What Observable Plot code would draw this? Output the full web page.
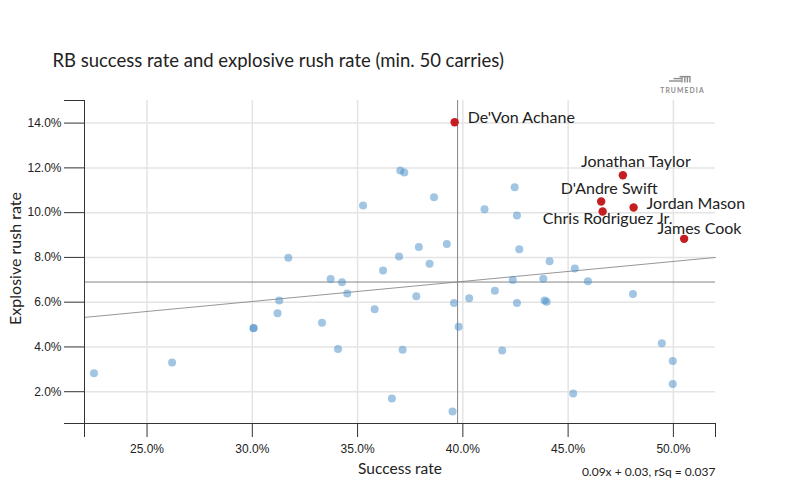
<!DOCTYPE html>
<html>
<head>
<meta charset="utf-8">
<script src="https://cdn.jsdelivr.net/npm/d3@7"></script>
<script src="https://cdn.jsdelivr.net/npm/@observablehq/plot@0.6"></script>
<style>
  body { margin: 0; background: #fff; }
  #wrap { position: relative; width: 799px; height: 499px; overflow: hidden; }
  #logo { position: absolute; left: 0; top: 0; pointer-events: none; }
</style>
</head>
<body>
<div id="wrap">
  <div id="chart"></div>
  <svg id="logo" width="799" height="499">
    <g stroke="#8c8c8c" stroke-width="1.4" fill="none">
      <line x1="669" y1="81" x2="681.5" y2="81"/>
      <line x1="673.5" y1="78.6" x2="681.5" y2="78.6"/>
      <line x1="679.5" y1="76.6" x2="690.5" y2="76.6"/>
      <line x1="682" y1="76.6" x2="682" y2="82.4"/>
      <line x1="684.8" y1="76.6" x2="684.8" y2="82.4"/>
      <line x1="687.4" y1="76.6" x2="687.4" y2="82.4"/>
      <line x1="689.9" y1="76.6" x2="689.9" y2="82.4"/>
    </g>
    <text x="682.5" y="92.5" text-anchor="middle" font-family="Lato, sans-serif" font-size="6.8" font-weight="700" letter-spacing="1.1" fill="#8c8c8c">TRUMEDIA</text>
  </svg>
</div>
<script>
// ---- Data ----
const titleText = "RB success rate and explosive rush rate (min. 50 carries)";
const xLabel = "Success rate";
const yLabel = "Explosive rush rate";
const regressionText = "0.09x + 0.03, rSq = 0.037";

const xTicks = [0.25, 0.30, 0.35, 0.40, 0.45, 0.50];
const yTicks = [0.02, 0.04, 0.06, 0.08, 0.10, 0.12, 0.14];
const xDomain = [0.2203, 0.5200];
const yDomain = [0.0058, 0.1501];

// all other RBs
const otherSuccess = [
  0.2248, 0.2619, 0.3007, 0.3005, 0.3120, 0.3128, 0.3171, 0.3331, 0.3372, 0.3426,
  0.3451, 0.3407, 0.3526, 0.3581, 0.3621, 0.3663, 0.3703, 0.3722, 0.3697, 0.3714,
  0.3791, 0.3779, 0.3842, 0.3863, 0.3924, 0.3958, 0.3951, 0.3980, 0.4030, 0.4103,
  0.4152, 0.4187, 0.4246, 0.4257, 0.4268, 0.4237, 0.4257, 0.4382, 0.4388, 0.4398,
  0.4412, 0.4524, 0.4532, 0.4594, 0.4808, 0.4945, 0.4997, 0.4997
];
const otherExplosive = [
  0.0283, 0.0331, 0.0485, 0.0484, 0.0550, 0.0608, 0.0798, 0.0508, 0.0704, 0.0689,
  0.0639, 0.0391, 0.1032, 0.0568, 0.0741, 0.0170, 0.1188, 0.1179, 0.0804, 0.0387,
  0.0847, 0.0626, 0.0772, 0.1069, 0.0860, 0.0596, 0.0112, 0.0490, 0.0617, 0.1015,
  0.0651, 0.0384, 0.1114, 0.0987, 0.0836, 0.0699, 0.0596, 0.0705, 0.0608, 0.0602,
  0.0783, 0.0192, 0.0750, 0.0693, 0.0637, 0.0416, 0.0337, 0.0235
];

// highlighted RBs
const highlightNames = ["De'Von Achane", "Jonathan Taylor", "D'Andre Swift", "Jordan Mason", "Chris Rodriguez Jr.", "James Cook"];
const highlightSuccess = [0.3961, 0.4760, 0.4657, 0.4811, 0.4664, 0.5051];
const highlightExplosive = [0.1404, 0.1167, 0.1050, 0.1023, 0.1005, 0.0883];

// reference lines
const meanSuccess = 0.3975;
const meanExplosive = 0.0690;
const regSlope = 0.0894;
const regIntercept = 0.0335;

// label layout (style, not data)
const labelLayout = {
  "De'Von Achane": {dx: 13, dy: -4.5, anchor: "start"},
  "Jonathan Taylor": {dx: 13, dy: -13, anchor: "middle"},
  "D'Andre Swift": {dx: 8, dy: -12.5, anchor: "middle"},
  "Jordan Mason": {dx: 13, dy: -4, anchor: "start"},
  "Chris Rodriguez Jr.": {dx: 5, dy: 7.5, anchor: "middle"},
  "James Cook": {dx: 15.4, dy: -9.6, anchor: "middle"}
};

// ---- Build tables ----
const others = otherSuccess.map((s, i) => ({success: s, explosive: otherExplosive[i]}));
const highlights = highlightNames.map((n, i) => ({name: n, success: highlightSuccess[i], explosive: highlightExplosive[i]}));
const regLine = xDomain.map(x => ({x, y: regSlope * x + regIntercept}));

const tickFont = "'Liberation Sans', Arial, sans-serif";
const labelFont = "Lato, sans-serif";

const labelMarks = highlights.map(d => {
  const L = labelLayout[d.name];
  return Plot.text([d], {
    x: "success", y: "explosive", text: "name",
    dx: L.dx, dy: L.dy, textAnchor: L.anchor, lineAnchor: "middle",
    fontSize: 16, fontFamily: labelFont, fill: "#222"
  });
});

const chart = Plot.plot({
  width: 799,
  height: 499,
  marginLeft: 84,
  marginRight: 84,
  marginTop: 100,
  marginBottom: 76,
  style: {fontFamily: labelFont, background: "#fff", color: "#222", overflow: "visible"},
  x: {domain: xDomain, axis: null},
  y: {domain: yDomain, axis: null},
  marks: [
    Plot.gridX({ticks: xTicks, stroke: "#e4e4e4", strokeOpacity: 1, strokeWidth: 1.5}),
    Plot.gridY({ticks: yTicks, stroke: "#e4e4e4", strokeOpacity: 1, strokeWidth: 1.5}),
    Plot.ruleX([meanSuccess], {stroke: "#858585", strokeWidth: 1}),
    Plot.ruleY([meanExplosive], {stroke: "#858585", strokeWidth: 1}),
    Plot.line(regLine, {x: "x", y: "y", stroke: "#8a8a8a", strokeWidth: 0.9}),
    Plot.ruleX([xDomain[0]], {stroke: "#333", strokeWidth: 1}),
    Plot.ruleY([yDomain[0]], {stroke: "#333", strokeWidth: 1}),
    Plot.axisY({ticks: yTicks, tickSize: 20, tickPadding: 3, tickFormat: ".1%", stroke: "#333", fill: "#222", fontSize: 12, fontFamily: tickFont, label: null}),
    Plot.axisY({ticks: yDomain, tickSize: 20, fill: "none", stroke: "#333", label: null}),
    Plot.axisX({ticks: xTicks, tickSize: 14, tickPadding: 7, tickFormat: ".1%", stroke: "#333", fill: "#222", fontSize: 12, fontFamily: tickFont, label: null}),
    Plot.axisX({ticks: xDomain, tickSize: 14, fill: "none", stroke: "#333", label: null}),
    Plot.dot(others, {x: "success", y: "explosive", r: 4, fill: "#4a8fca", fillOpacity: 0.52, stroke: "none"}),
    Plot.dot(highlights, {x: "success", y: "explosive", r: 4.2, fill: "#c41e22", stroke: "none"}),
    ...labelMarks,
    Plot.text([titleText], {frameAnchor: "top-left", lineAnchor: "middle", dx: -32, dy: -39, textAnchor: "start", fontSize: 18.5, fontFamily: labelFont, fill: "#222"}),
    Plot.text([yLabel], {frameAnchor: "left", lineAnchor: "middle", textAnchor: "middle", rotate: -90, dx: -69, dy: -3.5, fontSize: 16, fontFamily: labelFont, fill: "#222"}),
    Plot.text([xLabel], {frameAnchor: "bottom", lineAnchor: "middle", textAnchor: "middle", dy: 46, fontSize: 15.5, fontFamily: labelFont, fill: "#222"}),
    Plot.text([regressionText], {frameAnchor: "bottom-right", lineAnchor: "middle", textAnchor: "end", dy: 48.5, fontSize: 12, fontFamily: labelFont, fill: "#222"})
  ]
});
document.getElementById("chart").appendChild(chart);
</script>
</body>
</html>
